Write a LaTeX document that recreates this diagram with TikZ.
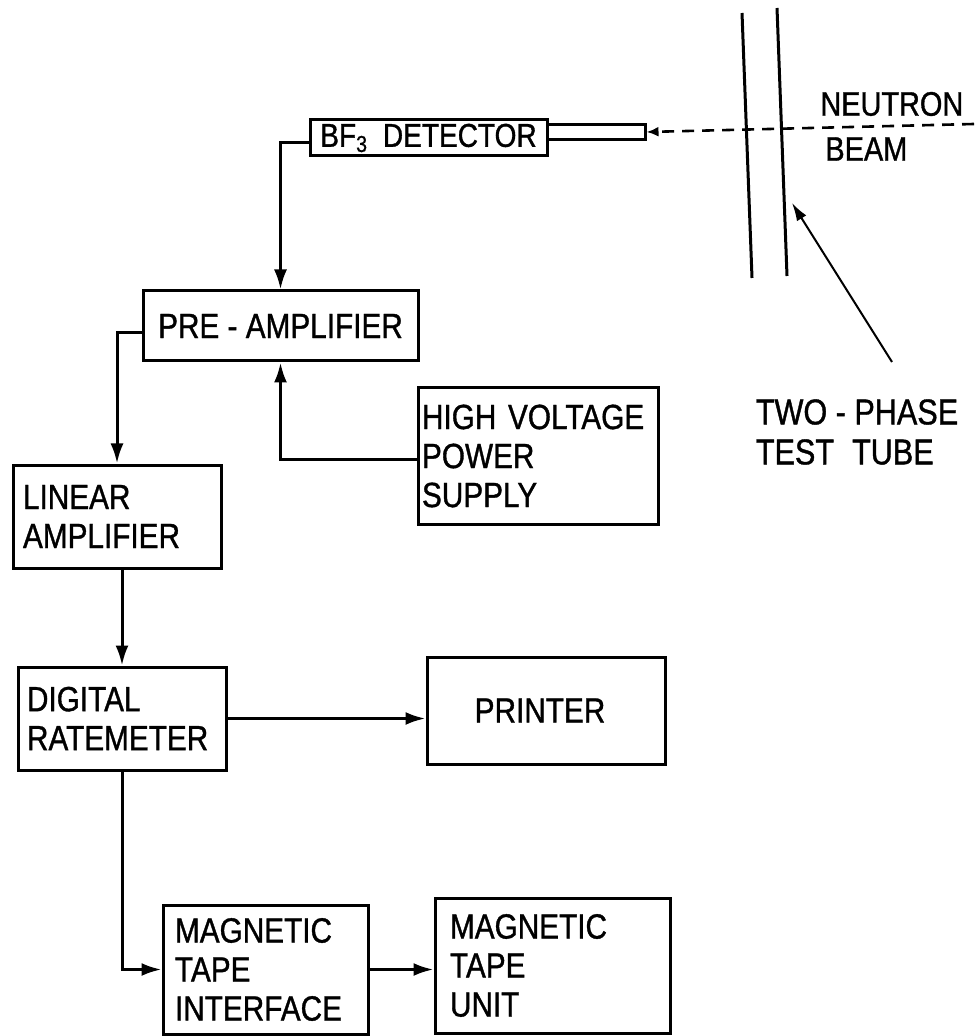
\documentclass[tikz,border=0pt]{standalone}
\usepackage{fontspec}
\setmainfont{Liberation Sans}[FakeStretch=0.85,FakeBold=1]
\usetikzlibrary{arrows.meta,calc}
\tikzset{
  caja/.style={draw,line width=1.5pt,inner ysep=0pt,align=center,
               font=\fontsize{17.5}{19.5}\selectfont},
  cajat/.style={caja,align=left},
  flecha/.style={-{Latex[length=10pt,width=6.5pt]},line width=1.5pt},
  flechaf/.style={-{Latex[length=9pt,width=5.5pt]},line width=1pt},
  haz/.style={-{Latex[length=6pt,width=5pt]},line width=1.3pt,dash pattern=on 6pt off 4pt},
  rot/.style={font=\fontsize{17}{19.5}\selectfont,inner sep=0pt,align=left},
  pared/.style={line width=1.5pt},
}

\begin{document}
\begin{tikzpicture}[x=0.5pt,y=-0.5pt]
\useasboundingbox (0,0) rectangle (974,1036);

\node[caja,minimum width=118.5pt,minimum height=18pt,inner xsep=2pt,
      font=\fontsize{16.5}{18}\selectfont] (det) at (428.5,138) {BF\textsubscript{3}\hspace{0.45em}DETECTOR};
\node[caja,minimum width=49pt,minimum height=7.5pt,inner sep=0pt] (tubo) at (596,132) {};
\node[caja,minimum width=137.5pt,minimum height=35pt] (pre) at (280.5,326) {PRE - AMPLIFIER};
\node[cajat,minimum height=68.5pt,inner xsep=2pt,text width=116pt] (hv) at (538,456) {HIGH VOLTAGE\\POWER\\SUPPLY};
\node[cajat,minimum height=51.5pt,inner xsep=5pt,text width=94pt] (lin) at (117,516.5) {LINEAR\\AMPLIFIER};
\node[cajat,minimum height=51.5pt,inner xsep=4.5pt,text width=95pt] (dig) at (122,718.5) {DIGITAL\\RATEMETER};
\node[caja,minimum width=119pt,minimum height=53.5pt] (prn) at (546,710.5) {PRINTER\hspace{6pt}};
\node[cajat,minimum height=64.5pt,inner xsep=6pt,text width=90.5pt] (mti) at (265.5,969.5) {MAGNETIC\\TAPE\\INTERFACE};
\node[cajat,minimum height=67.5pt,inner xsep=7.5pt,text width=102.5pt] (mtu) at (552.5,965.5) {MAGNETIC\\TAPE\\UNIT};

\node[rot,anchor=west] (neu)  at (820,104) {NEUTRON};
\node[rot,anchor=west] (beam) at (825,149) {BEAM};
\node[rot,font=\fontsize{18}{20}\selectfont] (tt) at (857,432) {TWO - PHASE\\TEST\hspace{0.5em}TUBE};

% tubo de ensayo
\draw[pared] (742,13) -- (752,278);
\draw[pared] (777,8) -- (787,276);
\coordinate (fuente) at (974,124);
\coordinate (cola)   at (892,362);
\coordinate (punta)  at (792,203);
\draw[haz] (fuente) -- (tubo.east);
\draw[flechaf] (cola) -- (punta);

\draw[flecha] ([yshift=-2.5pt]det.west) -| (pre.north);
\draw[flecha] ([yshift=-3.5pt]pre.west) -| (lin.north);
\draw[flecha] ([yshift=-1.5pt]hv.west) -| (pre.south);
\draw[flecha] (dig.north |- lin.south) -- (dig.north);
\draw[flecha] (dig.east) -- (dig.east -| prn.west);
\draw[flecha] (dig.south) |- (mti.west);
\draw[flecha] (mti.east) -- (mti.east -| mtu.west);

\end{tikzpicture}
\end{document}
